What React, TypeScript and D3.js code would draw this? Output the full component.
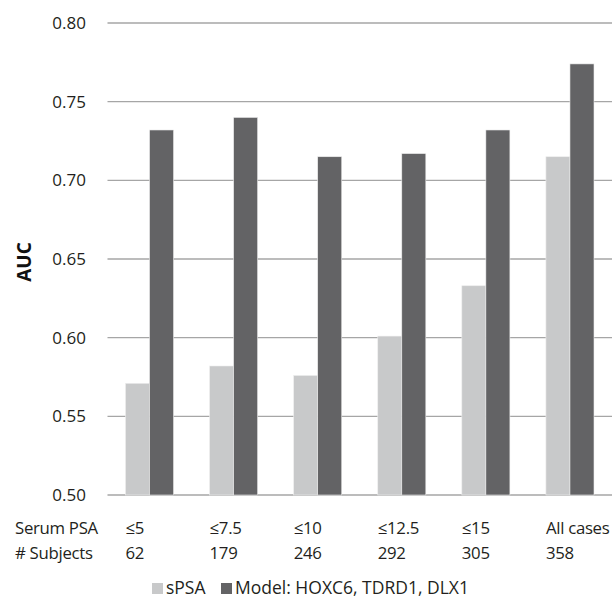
import * as d3 from "d3";

const categories = ["≤5", "≤7.5", "≤10", "≤12.5", "≤15", "All cases"];
const subjects = ["62", "179", "246", "292", "305", "358"];
const seriesNames = ["sPSA", "Model: HOXC6, TDRD1, DLX1"];
const spsaValues = [0.571, 0.582, 0.576, 0.601, 0.633, 0.715];
const modelValues = [0.732, 0.74, 0.715, 0.717, 0.732, 0.774];
const yTicks = [0.5, 0.55, 0.6, 0.65, 0.7, 0.75, 0.8];
const colors = ["#c8c9ca", "#636365"];

const W = 612;
const H = 599;
const font = "'Open Sans', 'Noto Sans', sans-serif";

export default function App() {
  const left = 107.5;
  const right = 612;
  const y = d3.scaleLinear().domain([0.5, 0.8]).range([495, 23]);
  const x0 = d3.scaleBand().domain(categories).range([left, right]).padding(0);
  const x1 = d3
    .scaleBand()
    .domain(seriesNames)
    .range([18, x0.bandwidth() - 18])
    .padding(0);
  const series = [spsaValues, modelValues];
  const tableFont = 16.8;

  return (
    <svg
      width={W}
      height={H}
      style={{ position: "absolute", left: 0, top: 0, background: "#fff" }}
      fontFamily={font}
    >
      {/* grid + y ticks */}
      {yTicks.map((t) => (
        <g key={t}>
          <line
            x1={left}
            x2={right}
            y1={y(t)}
            y2={y(t)}
            stroke="#a6a6a6"
            strokeWidth={1.4}
          />
          <text
            x={86}
            y={y(t)}
            dy="0.36em"
            textAnchor="end"
            fontSize={17}
            fill="#231f20"
          >
            {t.toFixed(2)}
          </text>
        </g>
      ))}

      {/* bars */}
      {categories.map((c, i) => (
        <g key={c} transform={`translate(${x0(c)},0)`}>
          {seriesNames.map((s, j) => (
            <rect
              key={s}
              x={x1(s)}
              y={y(series[j][i])}
              width={x1.bandwidth()}
              height={y(0.5) - y(series[j][i])}
              fill={colors[j]}
              stroke="#eeeeee"
              strokeWidth={0.6}
            />
          ))}
        </g>
      ))}

      {/* y title */}
      <text
        transform={`translate(31,262) rotate(-90)`}
        textAnchor="middle"
        fontSize={19}
        fontWeight="bold"
        fill="#111"
      >
        AUC
      </text>

      {/* table under the axis */}
      <g fontSize={tableFont} fill="#231f20" letterSpacing={-0.3}>
        <text x={15} y={534}>
          Serum PSA
        </text>
        <text x={15} y={559}>
          # Subjects
        </text>
        {categories.map((c, i) => (
          <g key={c}>
            <text x={(x0(c) as number) + 18} y={534}>
              {c}
            </text>
            <text x={(x0(c) as number) + 18} y={559}>
              {subjects[i]}
            </text>
          </g>
        ))}
      </g>

      {/* legend */}
      <g fontSize={17.5} fill="#231f20">
        <rect x={152} y={583} width={11} height={11} fill={colors[0]} />
        <text x={166} y={594}>
          {seriesNames[0]}
        </text>
        <rect x={221} y={583} width={11} height={11} fill={colors[1]} />
        <text x={235} y={594}>
          {seriesNames[1]}
        </text>
      </g>
    </svg>
  );
}
